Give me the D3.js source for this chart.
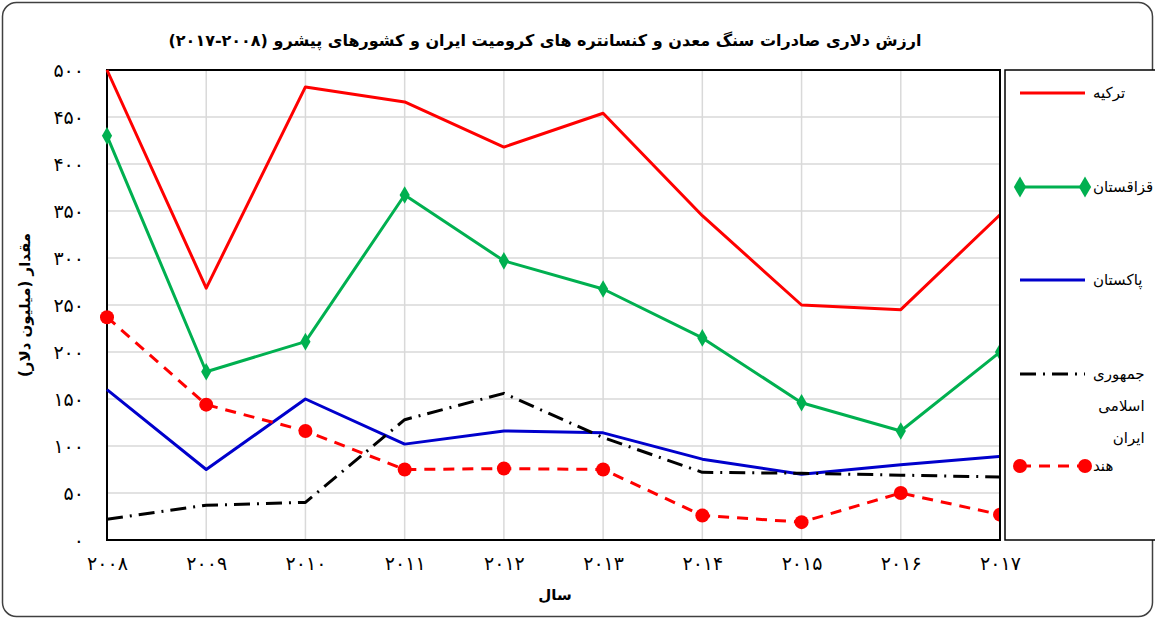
<!DOCTYPE html>
<html>
<head>
<meta charset="utf-8">
<script src="https://cdn.jsdelivr.net/npm/d3@7"></script>
<style>
  body { margin: 0; background: #fff; }
  text { font-family: "DejaVu Sans", sans-serif; }
</style>
</head>
<body>
<div id="chart"></div>
<script>
var chartWidth = 1155;
var chartHeight = 619;

// Data (million dollars)
var years = [2008, 2009, 2010, 2011, 2012, 2013, 2014, 2015, 2016, 2017];
var turkeyValues = [500, 268, 482, 466, 418, 454, 345, 250, 245, 346];
var kazakhValues = [430, 179, 211, 367, 297, 267, 215, 146, 116, 200];
var pakistanValues = [160, 75, 150, 102, 116, 114, 86, 70, 80, 89];
var iranValues = [22, 37, 40, 128, 156, 109, 72, 71, 69, 67];
var indiaValues = [237, 144, 116, 75, 76, 75, 26, 19, 50, 27];
var yTicks = [0, 50, 100, 150, 200, 250, 300, 350, 400, 450, 500];

var seriesList = [
  { name: "ترکیه", values: turkeyValues, color: "#ff0000", dash: null, marker: null },
  { name: "قزاقستان", values: kazakhValues, color: "#00b050", dash: null, marker: "diamond" },
  { name: "پاکستان", values: pakistanValues, color: "#0000cc", dash: null, marker: null },
  { name: "جمهوری اسلامی ایران", values: iranValues, color: "#000000", dash: "16,7,2,7", marker: null },
  { name: "هند", values: indiaValues, color: "#ff0000", dash: "11,8", marker: "circle" }
];

// Persian digits
function toPersian(n) {
  var digits = "۰۱۲۳۴۵۶۷۸۹";
  return String(n).replace(/\d/g, function (c) { return digits[+c]; });
}

var svg = d3.select("#chart")
  .append("svg")
  .attr("width", chartWidth)
  .attr("height", chartHeight);

// outer frame
svg.append("rect")
  .attr("x", 2.5).attr("y", 2.5)
  .attr("width", chartWidth - 5).attr("height", chartHeight - 5)
  .attr("rx", 14)
  .attr("fill", "#fff")
  .attr("stroke", "#404040")
  .attr("stroke-width", 1.5);

var plot = { left: 107, right: 1000, top: 70, bottom: 540 };

var x = d3.scalePoint().domain(years).range([plot.left, plot.right]);
var y = d3.scaleLinear().domain([0, 500]).range([plot.bottom, plot.top]);

// gridlines
svg.append("g")
  .selectAll("line")
  .data(yTicks)
  .enter()
  .append("line")
  .attr("x1", plot.left).attr("x2", plot.right)
  .attr("y1", function (d) { return y(d); })
  .attr("y2", function (d) { return y(d); })
  .attr("stroke", "#d9d9d9")
  .attr("stroke-width", 1.5);

svg.append("g")
  .selectAll("line")
  .data(years)
  .enter()
  .append("line")
  .attr("x1", function (d) { return x(d); })
  .attr("x2", function (d) { return x(d); })
  .attr("y1", plot.top).attr("y2", plot.bottom)
  .attr("stroke", "#d9d9d9")
  .attr("stroke-width", 1.5);

// y axis labels
var yAxis = d3.axisLeft(y).tickValues(yTicks).tickSize(0).tickPadding(23).tickFormat(toPersian);
var yAxisG = svg.append("g")
  .attr("transform", "translate(" + plot.left + ",0)")
  .call(yAxis);
yAxisG.select(".domain").remove();
yAxisG.selectAll("text")
  .style("font-family", "DejaVu Sans")
  .style("font-size", "19px")
  .style("letter-spacing", "3px")
  .attr("fill", "#000");

// x axis labels
var xAxis = d3.axisBottom(x).tickSize(0).tickPadding(17).tickFormat(toPersian);
var xAxisG = svg.append("g")
  .attr("transform", "translate(0," + plot.bottom + ")")
  .call(xAxis);
xAxisG.select(".domain").remove();
xAxisG.selectAll("text")
  .style("font-family", "DejaVu Sans")
  .style("font-size", "19px")
  .style("letter-spacing", "4px")
  .attr("fill", "#000");

// plot border
svg.append("rect")
  .attr("x", plot.left).attr("y", plot.top)
  .attr("width", plot.right - plot.left).attr("height", plot.bottom - plot.top)
  .attr("fill", "none")
  .attr("stroke", "#000")
  .attr("stroke-width", 2);

var lineGen = d3.line()
  .x(function (d, i) { return x(years[i]); })
  .y(function (d) { return y(d); });

var diamond = d3.symbol().type(d3.symbolDiamond).size(90);
var legendDiamond = d3.symbol().type(d3.symbolDiamond).size(130);

svg.append("clipPath").attr("id", "plotClip")
  .append("rect")
  .attr("x", plot.left - 10).attr("y", plot.top - 10)
  .attr("width", plot.right - plot.left + 10 - 1).attr("height", plot.bottom - plot.top + 20);

seriesList.forEach(function (s) {
  var g = svg.append("g").attr("clip-path", "url(#plotClip)");
  g.append("path")
    .attr("d", lineGen(s.values))
    .attr("fill", "none")
    .attr("stroke", s.color)
    .attr("stroke-width", 3)
    .attr("stroke-dasharray", s.dash)
    .attr("stroke-linejoin", "round");

  if (s.marker === "diamond") {
    g.selectAll(".mk")
      .data(s.values)
      .enter()
      .append("path")
      .attr("d", diamond)
      .attr("transform", function (d, i) { return "translate(" + x(years[i]) + "," + y(d) + ")"; })
      .attr("fill", s.color);
  }
  if (s.marker === "circle") {
    g.selectAll(".mk")
      .data(s.values)
      .enter()
      .append("circle")
      .attr("cx", function (d, i) { return x(years[i]); })
      .attr("cy", function (d) { return y(d); })
      .attr("r", 7)
      .attr("fill", s.color);
  }
});

// legend
var legendBox = { left: 1005, top: 70, right: 1160, bottom: 540 };
svg.append("rect")
  .attr("x", legendBox.left).attr("y", legendBox.top)
  .attr("width", legendBox.right - legendBox.left).attr("height", legendBox.bottom - legendBox.top)
  .attr("fill", "#fff")
  .attr("stroke", "#000")
  .attr("stroke-width", 1.5);

var legendY = [93, 187, 280, 374, 466];
var legendTextX = 1093;

seriesList.forEach(function (s, i) {
  var ly = legendY[i];
  var lg = svg.append("g");
  lg.append("line")
    .attr("x1", 1020).attr("x2", 1085)
    .attr("y1", ly).attr("y2", ly)
    .attr("stroke", s.color)
    .attr("stroke-width", 3)
    .attr("stroke-dasharray", s.dash);
  if (s.marker === "diamond") {
    [1020, 1085].forEach(function (mx) {
      lg.append("path").attr("d", legendDiamond).attr("transform", "translate(" + mx + "," + ly + ")").attr("fill", s.color);
    });
  }
  if (s.marker === "circle") {
    [1020, 1085].forEach(function (mx) {
      lg.append("circle").attr("cx", mx).attr("cy", ly).attr("r", 7).attr("fill", s.color);
    });
  }
  // first word starts next to the sample; wrapped words align to its right edge
  var words = s.name.split(" ");
  var first = lg.append("text")
    .attr("x", legendTextX)
    .attr("y", ly)
    .attr("dy", "0.35em")
    .attr("text-anchor", "start")
    .style("font-size", "15px")
    .text(words[0]);
  var rightEdge = legendTextX + first.node().getComputedTextLength();
  words.slice(1).forEach(function (w, j) {
    lg.append("text")
      .attr("x", rightEdge)
      .attr("y", ly + (j + 1) * 32)
      .attr("dy", "0.35em")
      .attr("text-anchor", "end")
      .style("font-size", "15px")
      .text(w);
  });
});

// title
svg.append("text")
  .attr("x", 545)
  .attr("y", 46)
  .attr("text-anchor", "middle")
  .attr("direction", "rtl")
  .style("font-size", "16px")
  .style("font-weight", "bold")
  .text("ارزش دلاری صادرات سنگ معدن و کنسانتره های کرومیت ایران و کشورهای پیشرو (۲۰۰۸-۲۰۱۷)");

// axis titles
svg.append("text")
  .attr("transform", "translate(30," + (plot.top + plot.bottom) / 2 + ") rotate(-90)")
  .attr("text-anchor", "middle")
  .attr("direction", "rtl")
  .style("font-size", "15px")
  .style("font-weight", "bold")
  .text("مقدار (میلیون دلار)");

svg.append("text")
  .attr("x", 555)
  .attr("y", 600)
  .attr("text-anchor", "middle")
  .style("font-size", "15px")
  .style("font-weight", "bold")
  .text("سال");
</script>
</body>
</html>
